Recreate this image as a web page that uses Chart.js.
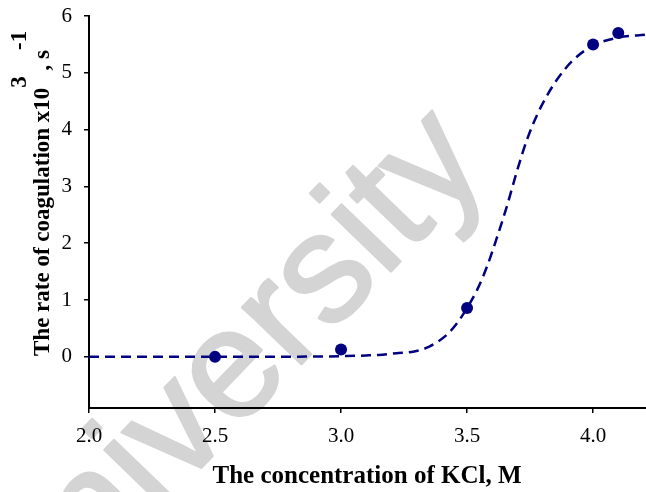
<!DOCTYPE html>
<html>
<head>
<meta charset="utf-8">
<script src="https://cdn.jsdelivr.net/npm/chart.js@4.4.1/dist/chart.umd.min.js"></script>
<style>
  html, body { margin: 0; padding: 0; background: #ffffff; }
  #wrap { width: 646px; height: 492px; }
</style>
</head>
<body>
<div id="wrap"><canvas id="chart" width="646" height="492"></canvas></div>
<script>
// Measured coagulation rates (x10^3, s^-1) against KCl concentration (M)
const kclConc  = [2.5, 3.0, 3.5, 4.0, 4.1];
const coagRate = [0.0, 0.13, 0.86, 5.5, 5.7];

// Fitted sigmoid curve, sampled along the concentration axis
const fitConc = [2.0, 2.2, 2.4, 2.6, 2.8, 3.0, 3.1, 3.15, 3.22, 3.29, 3.35, 3.42, 3.46, 3.5, 3.54, 3.58, 3.62, 3.66, 3.7, 3.74, 3.78, 3.82, 3.86, 3.92, 4.0, 4.1, 4.21];
const fitRate = [0.0, 0.0, 0.0, 0.0, 0.003, 0.012, 0.025, 0.035, 0.065, 0.095, 0.18, 0.39, 0.59, 0.86, 1.18, 1.6, 2.12, 2.68, 3.3, 3.85, 4.28, 4.62, 4.9, 5.22, 5.48, 5.62, 5.67];

// Axis ticks
const xTickValues = [2.0, 2.5, 3.0, 3.5, 4.0];
const yTickValues = [0, 1, 2, 3, 4, 5, 6];

const NAVY = '#000080';
const SERIF = '"Liberation Serif", "Times New Roman", serif';

// Light background lettering behind the plot
const watermark = {
  id: 'watermark',
  beforeDraw(chart) {
    const ctx = chart.ctx;
    ctx.save();
    ctx.translate(255, 412);
    ctx.rotate(-46 * Math.PI / 180);
    ctx.font = '155px "Liberation Sans", Arial, sans-serif';
    ctx.fillStyle = '#d4d4d4';
    ctx.strokeStyle = '#d4d4d4';
    ctx.lineWidth = 2.5;
    ctx.lineJoin = 'round';
    ctx.textAlign = 'center';
    ctx.textBaseline = 'alphabetic';
    ctx.fillText('University', 0, 0);
    ctx.strokeText('University', 0, 0);
    ctx.restore();
  }
};

// Axis titles with superscripted exponents
const axisTitles = {
  id: 'axisTitles',
  afterDraw(chart) {
    const ctx = chart.ctx;
    ctx.save();
    ctx.fillStyle = '#000';
    ctx.textBaseline = 'alphabetic';

    // x title
    ctx.font = 'bold 25px ' + SERIF;
    ctx.textAlign = 'center';
    ctx.fillText('The concentration of KCl, M', 367, 483);

    // y title, rotated
    ctx.translate(49, 356);
    ctx.rotate(-Math.PI / 2);
    ctx.textAlign = 'left';
    const parts = [
      { t: 'The rate of coagulation x10', dy: 0 },
      { t: '3', dy: -23 },
      { t: ' , s', dy: 0 },
      { t: '-1', dy: -23 }
    ];
    ctx.font = 'bold 23px ' + SERIF;
    let x = 0;
    for (const p of parts) {
      ctx.fillText(p.t, x, p.dy);
      x += ctx.measureText(p.t).width;
    }
    ctx.restore();
  }
};

new Chart(document.getElementById('chart'), {
  type: 'scatter',
  data: {
    datasets: [
      {
        label: 'measured',
        data: kclConc.map((x, i) => ({ x, y: coagRate[i] })),
        showLine: false,
        pointRadius: 6,
        pointHoverRadius: 6,
        pointBackgroundColor: NAVY,
        pointBorderColor: NAVY,
        pointBorderWidth: 0,
        order: 0
      },
      {
        label: 'fit',
        data: fitConc.map((x, i) => ({ x, y: fitRate[i] })),
        showLine: true,
        borderColor: NAVY,
        borderWidth: 2.5,
        borderDash: [10, 6],
        cubicInterpolationMode: 'monotone',
        pointRadius: 0,
        pointHoverRadius: 0,
        fill: false,
        order: 1
      }
    ]
  },
  options: {
    responsive: false,
    animation: false,
    devicePixelRatio: 1,
    layout: { autoPadding: false, padding: { left: 0, top: 16, right: 0, bottom: 0 } },
    plugins: {
      legend: { display: false },
      tooltip: { enabled: false },
      title: { display: false }
    },
    scales: {
      x: {
        type: 'linear',
        min: 2.0,
        max: 4.21,
        afterFit(scale) {
          scale.height = 84;
          scale.paddingLeft = 0;
          scale.paddingRight = 0;
        },
        afterBuildTicks(scale) { scale.ticks = xTickValues.map(v => ({ value: v })); },
        border: { display: true, color: '#000', width: 2 },
        grid: { display: true, drawOnChartArea: false, drawTicks: true, tickLength: 5, color: '#000', lineWidth: 1.5 },
        ticks: {
          color: '#000',
          font: { family: SERIF, size: 21 },
          padding: 11,
          maxRotation: 0,
          callback: v => Number(v).toFixed(1)
        },
        title: { display: false }
      },
      y: {
        type: 'linear',
        min: -0.9,
        max: 6,
        afterFit(scale) {
          scale.width = 89;
          scale.paddingTop = 0;
          scale.paddingBottom = 0;
        },
        afterBuildTicks(scale) { scale.ticks = yTickValues.map(v => ({ value: v })); },
        border: { display: true, color: '#000', width: 2 },
        grid: { display: true, drawOnChartArea: false, drawTicks: true, tickLength: 5, color: '#000', lineWidth: 1.5 },
        ticks: {
          color: '#000',
          font: { family: SERIF, size: 21 },
          padding: 12,
          callback: v => String(v)
        },
        title: { display: false }
      }
    }
  },
  plugins: [watermark, axisTitles]
});
</script>
</body>
</html>
